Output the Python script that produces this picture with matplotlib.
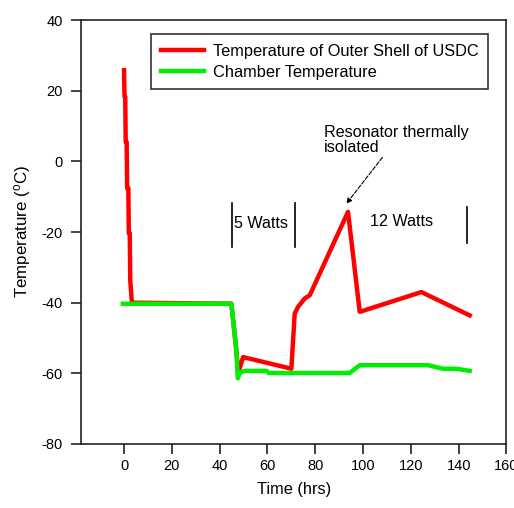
import matplotlib
matplotlib.use("Agg")
import matplotlib.pyplot as plt

# temperature of outer shell of USDC (red)
shell_time = [0, 0.2, 0.5, 0.7, 1.1, 1.3, 1.8, 2.0, 2.4, 2.6, 3.2, 3.4, 44.9, 47.0, 47.8, 49.8, 70,
              71.4, 72.8, 75.6, 77.7, 93.7, 98.6, 124.4, 144.6]
shell_temp = [25.8, 18.3, 18.3, 5.5, 5.5, -7.6, -7.6, -20.3, -20.3, -33.6, -39.3, -40, -40.3, -53.5, -60, -55.4, -58.7,
              -43.1, -41.2, -38.8, -37.9, -14.3, -42.6, -37.0, -43.6]

# chamber temperature (green)
chamber_time = [-0.5, 44.9, 47.0, 47.6, 48.5, 50.5, 59.6, 60.5, 94.4, 98.6, 127.2, 133.5, 139, 144.6]
chamber_temp = [-40.3, -40.3, -53.5, -61.4, -59.8, -59.3, -59.3, -59.9, -59.9, -57.7, -57.7, -58.7, -58.7, -59.3]

x_ticks = [0, 20, 40, 60, 80, 100, 120, 140, 160]
y_ticks = [-80, -60, -40, -20, 0, 20, 40]

plt.rcParams['font.family'] = ['Liberation Sans', 'DejaVu Sans']
plt.rcParams['axes.unicode_minus'] = False
plt.rcParams['mathtext.default'] = 'regular'

fig = plt.figure(figsize=(5.14, 5.08), dpi=100)
ax = fig.add_axes([0.1576, 0.126, 0.8278, 0.8346])

ax.plot(shell_time, shell_temp, color='#ff0000', lw=3.2, solid_joinstyle='round',
        label='Temperature of Outer Shell of USDC')
ax.plot(chamber_time, chamber_temp, color='#00ee00', lw=3.2, solid_joinstyle='round',
        label='Chamber Temperature')

ax.set_xlim(-18, 160)
ax.set_ylim(-80, 40)
ax.set_xticks(x_ticks)
ax.set_yticks(y_ticks)
ax.tick_params(direction='out', length=7, width=1.2, labelsize=10.5, color='#222222')
ax.tick_params(axis='y', pad=6)
for s in ax.spines.values():
    s.set_linewidth(1.2)
    s.set_color('#222222')

ax.set_xlabel('Time (hrs)', fontsize=11.8, labelpad=7)
ax.set_ylabel('Temperature ($^{o}$C)', fontsize=12.2, labelpad=6)

# power markers
for xv in [45.2, 71.7]:
    ax.plot([xv, xv], [-11.9, -24.2], color='black', lw=1.2)
ax.plot([143.3, 143.3], [-12.9, -23.1], color='black', lw=1.2)
ax.text(45.8, -17.6, '5 Watts', fontsize=11.6, va='center', ha='left')
ax.text(116, -17.1, '12 Watts', fontsize=11.6, va='center', ha='center')

ax.annotate('Resonator thermally\nisolated', xy=(93, -12), xytext=(83.6, 10.4),
            fontsize=11.6, ha='left', va='top', linespacing=1.0,
            arrowprops=dict(arrowstyle='-|>', ls='--', lw=0.8, color='black',
                            mutation_scale=8, shrinkA=0, shrinkB=0),
            annotation_clip=False)

leg = ax.legend(loc='upper right', bbox_to_anchor=(0.957, 0.967), borderaxespad=0,
                fontsize=11.8, frameon=True, fancybox=False, edgecolor='black',
                handlelength=2.6, handletextpad=0.55, borderpad=0.6, labelspacing=0.35)
leg.get_frame().set_linewidth(1.2)

fig.savefig('out.png', dpi=100)
